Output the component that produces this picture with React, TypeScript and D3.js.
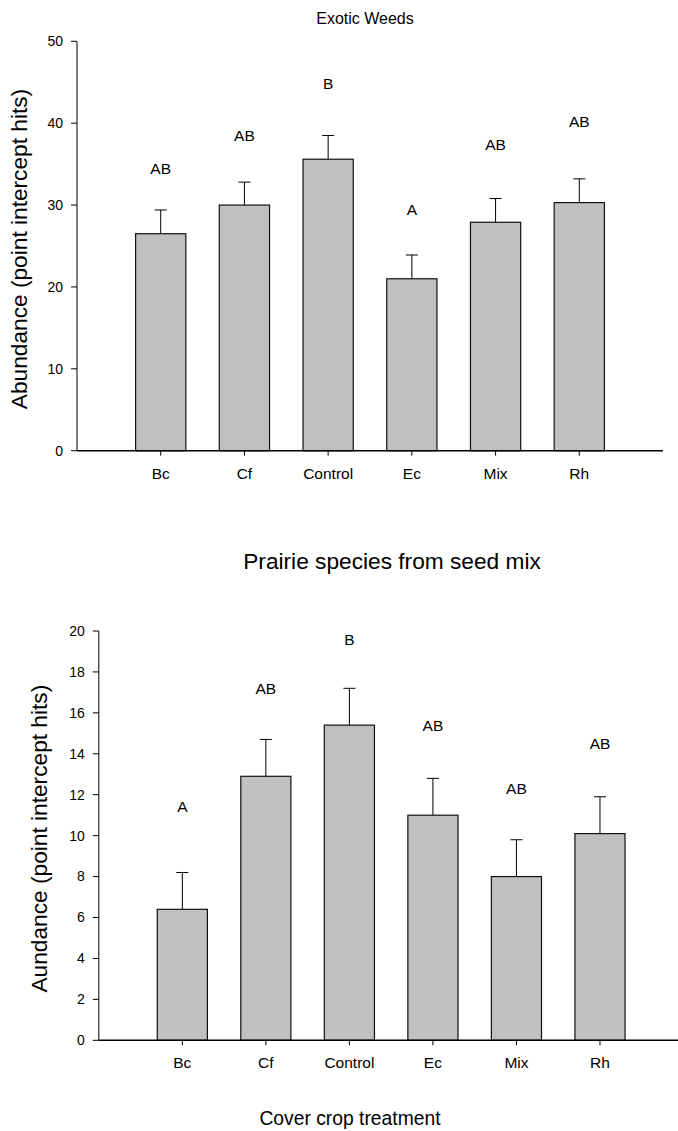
import React from 'react';
import * as d3 from 'd3';

const categories = ['Bc', 'Cf', 'Control', 'Ec', 'Mix', 'Rh'];

// Exotic weeds (top panel)
const weedMeans = [26.5, 30.0, 35.6, 21.0, 27.9, 30.3];
const weedErrors = [2.9, 2.8, 2.9, 2.9, 2.9, 2.9];
const weedLetters = ['AB', 'AB', 'B', 'A', 'AB', 'AB'];
const weedLetterAt = [34.4, 38.5, 44.8, 29.4, 37.4, 40.2];
const weedTicks = [0, 10, 20, 30, 40, 50];

// Prairie species from seed mix (bottom panel)
const prairieMeans = [6.4, 12.9, 15.4, 11.0, 8.0, 10.1];
const prairieErrors = [1.8, 1.8, 1.8, 1.8, 1.8, 1.8];
const prairieLetters = ['A', 'AB', 'B', 'AB', 'AB', 'AB'];
const prairieLetterAt = [11.4, 17.2, 19.6, 15.4, 12.3, 14.5];
const prairieTicks = [0, 2, 4, 6, 8, 10, 12, 14, 16, 18, 20];

const FONT = '"Liberation Sans", Arial, Helvetica, sans-serif';

type PanelProps = {
  x0: number;
  x1: number;
  yTop: number;
  yBottom: number;
  max: number;
  ticks: number[];
  means: number[];
  errors: number[];
  letters: string[];
  letterAt: number[];
  yLabel: string;
  yLabelX: number;
};

const Panel = ({ x0, x1, yTop, yBottom, max, ticks, means, errors, letters, letterAt, yLabel, yLabelX }: PanelProps) => {
  const x = d3.scaleBand<string>()
    .domain(categories)
    .range([x0, x1])
    .paddingInner(0.4)
    .paddingOuter(0.7);

  const y = d3.scaleLinear().domain([0, max]).range([yBottom, yTop]);
  const bw = x.bandwidth();
  const cap = 6;

  return (
    <g fontFamily={FONT} fill="#000">
      {/* bars + error bars (upper only) */}
      {categories.map((c, i) => {
        const cx = (x(c) as number) + bw / 2;
        const top = y(means[i] + errors[i]);
        return (
          <g key={c}>
            <line x1={cx} x2={cx} y1={y(means[i])} y2={top} stroke="#000" strokeWidth={1} />
            <line x1={cx - cap} x2={cx + cap} y1={top} y2={top} stroke="#000" strokeWidth={1} />
            <rect
              x={x(c)}
              y={y(means[i])}
              width={bw}
              height={y(0) - y(means[i])}
              fill="#c0c0c0"
              stroke="#111"
              strokeWidth={1.2}
            />
            <text x={cx} y={y(letterAt[i])} dy="0.35em" textAnchor="middle" fontSize={15.5}>{letters[i]}</text>
          </g>
        );
      })}

      {/* y axis */}
      <line x1={x0} x2={x0} y1={y(max)} y2={y(0)} stroke="#000" strokeWidth={1} />
      {ticks.map(t => (
        <g key={t}>
          <line x1={x0 - 6} x2={x0} y1={y(t)} y2={y(t)} stroke="#000" strokeWidth={1} />
          <text x={x0 - 14} y={y(t)} dy="0.35em" textAnchor="end" fontSize={14}>{t}</text>
        </g>
      ))}

      {/* x axis */}
      <line x1={x0} x2={x1} y1={y(0)} y2={y(0)} stroke="#000" strokeWidth={1.5} />
      {categories.map(c => {
        const cx = (x(c) as number) + bw / 2;
        return (
          <g key={`t-${c}`}>
            <line x1={cx} x2={cx} y1={y(0)} y2={y(0) + 5} stroke="#000" strokeWidth={1} />
            <text x={cx} y={y(0) + 28} textAnchor="middle" fontSize={15.5}>{c}</text>
          </g>
        );
      })}

      <text
        transform={`translate(${yLabelX},${(yTop + yBottom) / 2 + 3}) rotate(-90)`}
        dy="0.35em"
        textAnchor="middle"
        fontSize={22.7}
      >
        {yLabel}
      </text>
    </g>
  );
};

export default function App() {
  return (
    <div>
      <style>{'body{margin:0;background:#fff}'}</style>
      <svg width={678} height={1131} style={{ display: 'block' }}>
        <rect width={678} height={1131} fill="#fff" />
        <text x={365} y={24} textAnchor="middle" fontSize={16} fontFamily={FONT}>Exotic Weeds</text>
        <Panel
          x0={77}
          x1={663}
          yTop={41.3}
          yBottom={450.7}
          max={50}
          ticks={weedTicks}
          means={weedMeans}
          errors={weedErrors}
          letters={weedLetters}
          letterAt={weedLetterAt}
          yLabel="Abundance (point intercept hits)"
          yLabelX={19.5}
        />
        <text x={392} y={569} textAnchor="middle" fontSize={22.7} fontFamily={FONT}>Prairie species from seed mix</text>
        <Panel
          x0={98.8}
          x1={683.5}
          yTop={631}
          yBottom={1040.3}
          max={20}
          ticks={prairieTicks}
          means={prairieMeans}
          errors={prairieErrors}
          letters={prairieLetters}
          letterAt={prairieLetterAt}
          yLabel="Aundance (point intercept hits)"
          yLabelX={39}
        />
        <text x={350} y={1125} textAnchor="middle" fontSize={19.3} fontFamily={FONT}>Cover crop treatment</text>
      </svg>
    </div>
  );
}
